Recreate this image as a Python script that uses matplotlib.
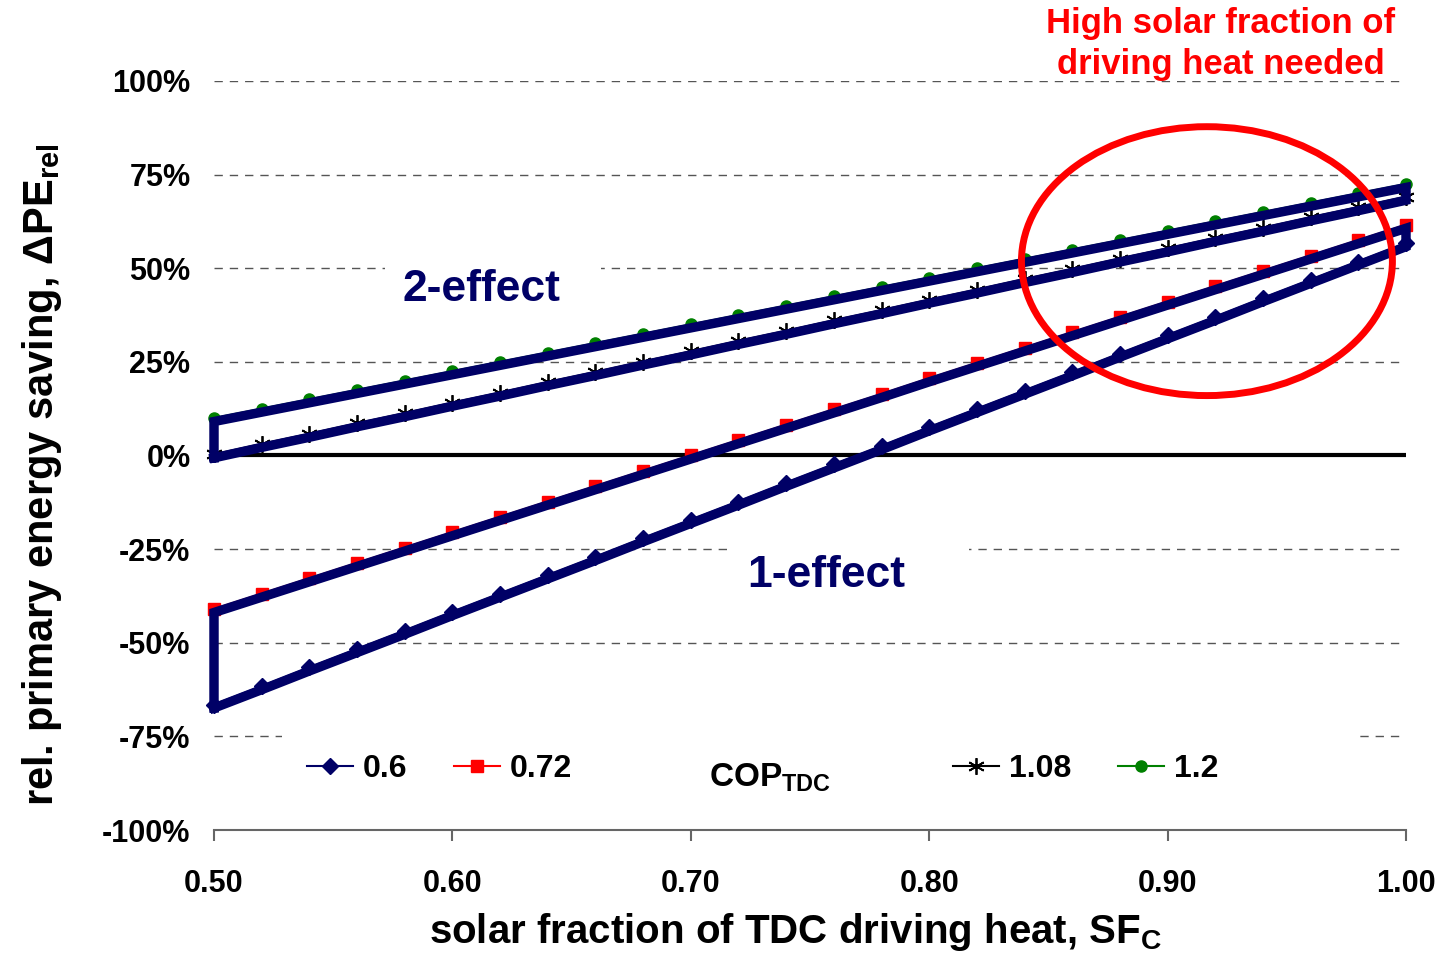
import numpy as np
import matplotlib
matplotlib.use("Agg")
import matplotlib.pyplot as plt
from matplotlib.patches import Ellipse, Rectangle
from matplotlib.lines import Line2D
import matplotlib.transforms as mtransforms

plt.rcParams['font.family'] = ['Liberation Sans', 'DejaVu Sans']
plt.rcParams['font.weight'] = 'bold'
plt.rcParams['mathtext.default'] = 'regular'

# ---------------- data ----------------
sf = [0.50, 0.52, 0.54, 0.56, 0.58, 0.60, 0.62, 0.64, 0.66, 0.68, 0.70, 0.72, 0.74,
      0.76, 0.78, 0.80, 0.82, 0.84, 0.86, 0.88, 0.90, 0.92, 0.94, 0.96, 0.98, 1.00]

cop_0_6 = [-0.665, -0.616, -0.566, -0.517, -0.468, -0.418, -0.369, -0.320, -0.271,
           -0.221, -0.172, -0.123, -0.073, -0.024, 0.025, 0.075, 0.124, 0.173,
           0.222, 0.272, 0.321, 0.370, 0.420, 0.469, 0.518, 0.567]
cop_0_72 = [-0.410, -0.369, -0.328, -0.287, -0.246, -0.205, -0.164, -0.123, -0.082,
            -0.041, 0.000, 0.041, 0.082, 0.123, 0.164, 0.206, 0.247, 0.288,
            0.329, 0.370, 0.411, 0.452, 0.493, 0.534, 0.575, 0.616]
cop_1_08 = [0.003, 0.031, 0.058, 0.086, 0.113, 0.141, 0.168, 0.196, 0.223, 0.251,
            0.278, 0.306, 0.333, 0.361, 0.388, 0.416, 0.443, 0.471, 0.498, 0.526,
            0.553, 0.581, 0.608, 0.636, 0.663, 0.691]
cop_1_2 = [0.100, 0.125, 0.150, 0.175, 0.200, 0.225, 0.250, 0.275, 0.300, 0.325,
           0.350, 0.375, 0.400, 0.425, 0.450, 0.475, 0.500, 0.525, 0.550, 0.575,
           0.600, 0.625, 0.650, 0.675, 0.700, 0.725]

series_labels = ["0.6", "0.72", "1.08", "1.2"]
x_ticks = [0.50, 0.60, 0.70, 0.80, 0.90, 1.00]
y_ticks = [-1.0, -0.75, -0.5, -0.25, 0.0, 0.25, 0.5, 0.75, 1.0]
y_ticklabels = ["-100%", "-75%", "-50%", "-25%", "0%", "25%", "50%", "75%", "100%"]

navy = '#000066'

fig = plt.figure(figsize=(14.5, 9.56), dpi=100)
ax = fig.add_axes([214/1450, 1 - 830/956, 1192/1450, 749/956])
ax.set_xlim(0.5, 1.0)
ax.set_ylim(-1.0, 1.0)

# gridlines (except 0)
for yv in y_ticks:
    if yv != 0.0:
        ax.axhline(yv, color='#555555', lw=1.0, ls=(0, (6, 5)), zorder=0.5)
ax.axhline(0.0, color='black', lw=3.0, zorder=1.5)

# white boxes behind labels / legend
for (x0, y0, w, h) in [(0.1435, 0.6943, 0.1812, 0.064),
                       (0.4337, 0.3071, 0.1997, 0.0761),
                       (0.057, 0.040, 0.8994, 0.096)]:
    ax.add_patch(Rectangle((x0, y0), w, h, transform=ax.transAxes,
                           facecolor='white', edgecolor='none', zorder=1))

# series
styles = [
    dict(color=navy, marker='D', ms=8, mfc=navy, mec=navy),
    dict(color='red', marker='s', ms=8, mfc='red', mec='red'),
    dict(color='black', marker=(6, 2, 0), ms=12, mfc='black', mec='black', mew=1.3),
    dict(color='green', marker='o', ms=8, mfc='green', mec='green'),
]
data = [cop_0_6, cop_0_72, cop_1_08, cop_1_2]
for yv, st in zip(data, styles):
    ax.plot(sf, yv, lw=1.5, zorder=3, clip_on=False, **st)

# thick navy outlines (1-effect and 2-effect bands)
off = mtransforms.ScaledTranslation(0, -2.5/72, fig.dpi_scale_trans)
tr = ax.transData + off
sfa = np.array(sf)
for lo, hi in [(cop_0_6, cop_0_72), (cop_1_08, cop_1_2)]:
    px = np.concatenate([sfa, sfa[::-1], sfa[:1]])
    py = np.concatenate([np.array(lo), np.array(hi)[::-1], np.array(lo)[:1]])
    ax.plot(px, py, color=navy, lw=6.8, zorder=4, clip_on=False,
            solid_joinstyle='miter', transform=tr)

# red ellipse
ax.add_patch(Ellipse((0.9165, 0.519), 0.1556, 0.718, fill=False,
                     edgecolor='red', lw=5, zorder=5, clip_on=False))

# labels
ax.text(0.224, 0.722, "2-effect", transform=ax.transAxes, ha='center', va='center',
        fontsize=32, fontweight='bold', color=navy, zorder=6)
ax.text(0.514, 0.3395, "1-effect", transform=ax.transAxes, ha='center', va='center',
        fontsize=32, fontweight='bold', color=navy, zorder=6)
ax.text(0.4664, 0.0574, "COP$_{TDC}$", transform=ax.transAxes, ha='center',
        va='baseline', fontsize=24, fontweight='bold', color='black', zorder=6)

fig.text(1221/1450, 1 - 44/956, "High solar fraction of\ndriving heat needed",
         ha='center', va='center', fontsize=25, fontweight='bold', color='red',
         linespacing=1.3)

# legends
handles = []
for lab, st in zip(series_labels, styles):
    handles.append(Line2D([], [], lw=1.5, label=lab, **st))
legkw = dict(frameon=False, ncol=2, handlelength=1.45,
             handletextpad=0.3, columnspacing=1.45, borderpad=0, borderaxespad=0,
             prop={'weight': 'bold', 'size': 23})
leg1 = ax.legend(handles=handles[:2], loc='center left',
                 bbox_to_anchor=(307/1450, 1 - 769/956),
                 bbox_transform=fig.transFigure, **legkw)
ax.add_artist(leg1)
leg2 = ax.legend(handles=handles[2:], loc='center left',
                 bbox_to_anchor=(953/1450, 1 - 769/956),
                 bbox_transform=fig.transFigure, **legkw)

# axes styling
for s in ['top', 'right', 'left']:
    ax.spines[s].set_visible(False)
ax.spines['bottom'].set_color('#666666')
ax.spines['bottom'].set_linewidth(1.5)
ax.set_xticks(x_ticks)
ax.set_xticklabels([f"{v:.2f}" for v in x_ticks])
ax.set_yticks(y_ticks)
ax.set_yticklabels(y_ticklabels)
ax.tick_params(axis='x', direction='out', length=8, width=1.5, color='#666666',
               labelsize=22, pad=20)
ax.tick_params(axis='y', length=0, labelsize=22, pad=17)
for lab in ax.get_xticklabels() + ax.get_yticklabels():
    lab.set_fontweight('bold')

ax.set_xlabel("solar fraction of TDC driving heat, SF$_{C}$", fontsize=29,
              fontweight='bold')
ax.xaxis.set_label_coords((796 - 214) / 1192, (830 - 932) / 749)
ax.set_ylabel("rel. primary energy saving, ΔPE$_{rel}$", fontsize=30,
              fontweight='bold')
ax.yaxis.set_label_coords((42 - 214) / 1192, (830 - 475) / 749)
ax.xaxis.label.set_va('center')
ax.yaxis.label.set_va('center')

fig.savefig("out.png", dpi=100)
